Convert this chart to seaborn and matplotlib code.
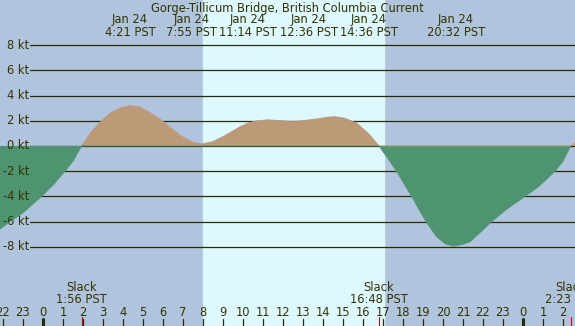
import numpy as np
import pandas as pd
import matplotlib
matplotlib.use('Agg')
import matplotlib.pyplot as plt
import seaborn as sns

# current speed (hours from midnight Jan 24, knots)
hours = [-2.15, -1.65, -1.0, -0.5, -0.07, 0.5, 1.1, 1.5, 1.93, 2.4, 2.93, 3.4,
         3.9, 4.35, 4.8, 5.3, 5.97, 6.5, 7.0, 7.5, 7.92, 8.5, 9.0, 9.5, 9.85,
         10.3, 10.7, 11.23, 11.8, 12.6, 13.2, 13.7, 14.2, 14.6, 15.1, 15.7,
         16.35, 16.8, 17.25, 17.68, 18.43, 19.15, 19.68, 20.1, 20.53, 21.0,
         21.35, 21.9, 22.43, 23.2, 24.1, 24.8, 25.6, 26.0, 26.38, 26.6]
speed = [-6.6, -6.0, -5.3, -4.6, -4.0, -3.1, -2.0, -1.2, 0.0, 1.1, 2.0, 2.65,
         3.05, 3.2, 3.1, 2.7, 2.0, 1.3, 0.7, 0.3, 0.15, 0.35, 0.74, 1.2, 1.53,
         1.85, 2.0, 2.08, 2.02, 1.95, 2.05, 2.15, 2.28, 2.33, 2.2, 1.8,
         0.87, 0.0, -1.0, -2.0, -4.0, -6.0, -7.2, -7.75, -7.95, -7.8,
         -7.6, -6.8, -6.0, -5.0, -4.0, -3.2, -2.0, -1.2, 0.0, 0.25]

# max / min events along the top
event_labels = ['4:21 PST', '7:55 PST', '11:14 PST', '12:36 PST', '14:36 PST', '20:32 PST']
# the chart spreads these out so they do not collide
event_label_x = [4.35, 7.45, 10.25, 13.3, 16.3, 20.65]

# slack water along the bottom
slack_hours = [1.93, 16.8, 26.38]
slack_labels = ['1:56 PST', '16:48 PST', '2:23 PST']

sunrise, sunset = 7.98, 17.05
kt_levels = [8, 6, 4, 2, 0, -2, -4, -6, -8]
hour_ticks = list(range(-2, 27))

night = '#B0C4DE'
day = '#DDF8FF'
flood = '#BC9A78'
ebb = '#4F9470'
ink = '#333300'
fs = 8.3

sns.set_style('white')
plt.rcParams['font.family'] = ['DejaVu Sans']

df = pd.DataFrame({'hour': hours, 'kt': speed})
df['flood'] = df['kt'].where(df['kt'] >= 0)
df['ebb'] = df['kt'].where(df['kt'] <= 0)

fig = plt.figure(figsize=(5.75, 3.26), dpi=100)
ax = fig.add_axes([0, 0, 1, 1])
ax.set_xlim(-2.15, 26.6)
ax.set_ylim(-14.29, 11.59)
ax.set_facecolor(night)
ax.axvspan(sunrise, sunset, color=day, zorder=0)

for lv in kt_levels:
    ax.axhline(lv, xmin=30 / 575, xmax=1, color='#2A2A00', lw=0.9, zorder=1)
    ax.text(-0.7, lv, f'{lv} kt', ha='right', va='center', fontsize=fs, color=ink)

ax.fill_between(df['hour'], df['kt'], 0, where=df['kt'] >= 0, interpolate=True,
                color=flood, lw=0, zorder=2)
ax.fill_between(df['hour'], df['kt'], 0, where=df['kt'] <= 0, interpolate=True,
                color=ebb, lw=0, zorder=2)
sns.lineplot(data=df, x='hour', y='flood', color=flood, lw=0.6, ax=ax, zorder=3)
sns.lineplot(data=df, x='hour', y='ebb', color=ebb, lw=0.6, ax=ax, zorder=3)

ax.text(12.2, 10.93, 'Gorge-Tillicum Bridge, British Columbia Current',
        ha='center', va='center', fontsize=fs, color=ink)
for x, lab in zip(event_label_x, event_labels):
    ax.text(x, 10.03, 'Jan 24', ha='center', va='center', fontsize=fs, color=ink)
    ax.text(x, 9.02, lab, ha='center', va='center', fontsize=fs, color=ink)

for h, lab in zip(slack_hours, slack_labels):
    ax.text(h, -11.2, 'Slack', ha='center', va='center', fontsize=fs, color=ink)
    ax.text(h, -12.15, lab, ha='center', va='center', fontsize=fs, color=ink)
    ax.plot([h, h], [-13.6, -14.29], color='#DD0000', lw=0.8, zorder=4)

for h in hour_ticks:
    ax.text(h, -13.2, str(h % 24), ha='center', va='center', fontsize=fs, color=ink)
    lw = 2.2 if h % 24 == 0 else 0.9
    ax.plot([h, h], [-13.7, -14.29], color='#2A2A00', lw=lw, zorder=4)

ax.set_xticks([])
ax.set_yticks([])
ax.set_xlabel('')
ax.set_ylabel('')
for s in ax.spines.values():
    s.set_visible(False)

fig.savefig('out.png', dpi=100)
